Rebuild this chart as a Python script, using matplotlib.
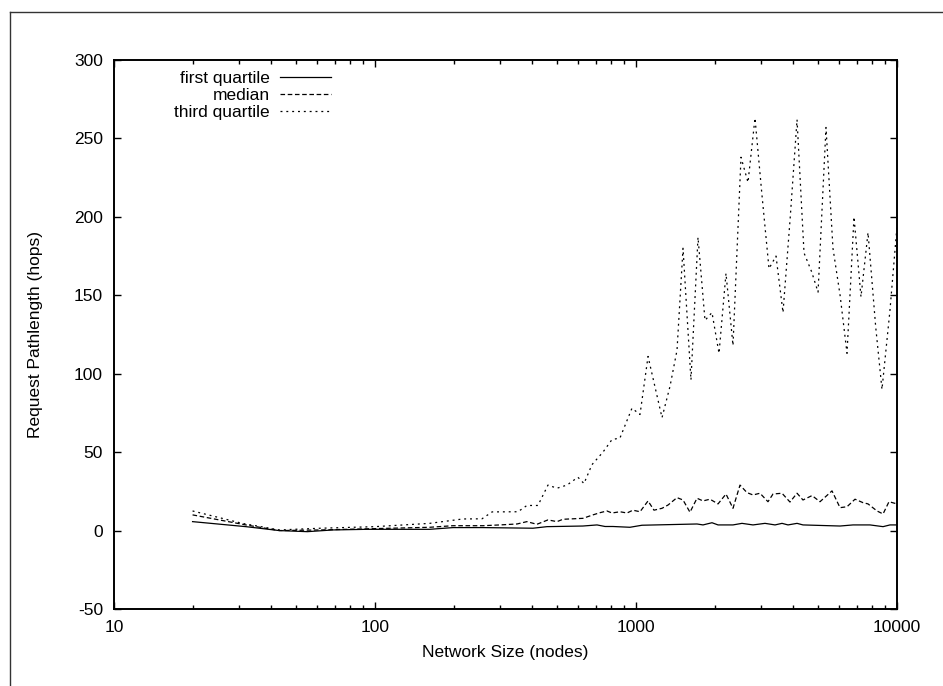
import matplotlib
matplotlib.use("Agg")
import matplotlib.pyplot as plt
from matplotlib.lines import Line2D
from matplotlib.ticker import FixedLocator, LogLocator, NullFormatter

plt.rcParams['font.family'] = ['Liberation Sans', 'DejaVu Sans']
plt.rcParams['lines.scale_dashes'] = False
plt.rcParams['axes.unicode_minus'] = False

# request pathlength quartiles vs network size
q1_size = [20, 32, 43, 55, 69, 93, 162, 199, 259, 403, 456, 626, 709, 761, 816,
           948, 1054, 1713, 1806, 1955, 2062, 2353, 2547, 2807, 3121, 3409,
           3626, 3823, 4140, 4363, 6049, 6783, 7881, 8842, 9402, 10000]
q1_hops = [5.7, 2.5, 0.0, -0.7, 0.4, 0.8, 0.8, 1.9, 1.9, 1.5, 2.5, 2.9, 3.6, 2.6, 2.6,
           2.1, 3.4, 4.2, 3.6, 5.0, 3.6, 3.6, 4.6, 3.6, 4.6, 3.6,
           4.6, 3.6, 4.6, 3.6, 2.9, 3.6, 3.6, 2.5, 3.6, 3.6]

med_size = [20, 32, 43, 62, 162, 199, 259, 301, 350, 382, 417, 460, 498, 525,
            626, 684, 728, 774, 809, 868, 924, 973, 1036, 1112, 1172, 1258,
            1327, 1436, 1514, 1610, 1713, 1806, 1921, 2062, 2212, 2353, 2503,
            2662, 2807, 2986, 3204, 3349, 3626, 3890, 4140, 4363, 4725, 5070,
            5636, 6049, 6434, 6904, 7407, 7744, 8383, 8842, 9318, 10000]
med_hops = [10.0, 3.6, 0.0, 0.4, 2.1, 3.1, 3.1, 3.6, 4.2, 5.7, 4.0, 6.8, 5.7, 7.2,
            7.8, 10.0, 11.4, 12.5, 11.2, 12.0, 11.2, 13.0, 12.0, 18.9, 13.0, 14.2,
            16.3, 21.0, 19.5, 11.7, 20.6, 18.9, 20.0, 17.0, 23.3, 14.2, 29.0,
            24.2, 22.7, 23.8, 18.4, 23.3, 23.8, 18.2, 23.8, 19.5, 22.3, 18.4,
            25.3, 14.6, 15.2, 20.0, 17.8, 17.0, 12.5, 10.6, 18.4, 17.0]

q3_size = [20, 31, 43, 62, 100, 162, 217, 257, 281, 353, 382, 421, 460, 498,
           544, 599, 632, 678, 747, 809, 868, 965, 1036, 1112, 1258, 1350,
           1436, 1514, 1624, 1728, 1838, 1955, 2080, 2212, 2353, 2525, 2686,
           2857, 3034, 3233, 3439, 3658, 3900, 4140, 4403, 4709, 4983, 5345,
           5684, 6053, 6434, 6843, 7278, 7744, 8285, 8759, 9393, 10000]
q3_hops = [12.5, 4.6, 0.4, 1.5, 2.5, 4.6, 7.4, 7.5, 11.9, 12.0, 16.0, 16.0, 29.0, 27.0,
           29.0, 34.0, 30.0, 42.0, 50.0, 58.0, 59.0, 78.0, 74.0, 111.0, 72.0, 92.0,
           115.0, 180.0, 96.0, 187.0, 134.0, 139.0, 113.0, 164.0, 118.0, 238.0, 222.0,
           263.0, 215.0, 167.0, 175.0, 139.0, 200.0, 262.0, 177.0, 165.0, 152.0, 257.0,
           180.0, 150.0, 113.0, 200.0, 149.0, 190.0, 130.0, 90.0, 140.0, 194.0]

W, H = 943, 686
fs = 12.5
fig = plt.figure(figsize=(W / 100, H / 100), dpi=100)
ax = fig.add_axes([114 / W, 1 - 609 / H, (897 - 114) / W, (609 - 60) / H])

lw = 0.9
ax.plot(q1_size, q1_hops, color='black', lw=lw, label='first quartile')
ax.plot(med_size, med_hops, color='black', lw=lw, dashes=(3.3, 1.9), label='median')
ax.plot(q3_size, q3_hops, color='black', lw=lw, dashes=(1.4, 2.8), label='third quartile')

ax.set_xscale('log')
ax.set_xlim(10, 10000)
ax.set_ylim(-50, 300)
ax.yaxis.set_major_locator(FixedLocator(range(-50, 301, 50)))
ax.xaxis.set_major_locator(FixedLocator([10, 100, 1000, 10000]))
ax.xaxis.set_minor_locator(LogLocator(base=10, subs=range(2, 10)))
ax.xaxis.set_minor_formatter(NullFormatter())
ax.set_xticklabels(['10', '100', '1000', '10000'])

ax.tick_params(which='both', direction='in', top=True, right=True,
               labelsize=fs, pad=8, width=1.0)
ax.tick_params(which='major', length=5)
ax.tick_params(which='minor', length=3)
for spine in ax.spines.values():
    spine.set_linewidth(1.4)

ax.set_xlabel('Network Size (nodes)', fontsize=fs, labelpad=7)
ax.set_ylabel('Request Pathlength (hops)', fontsize=fs, labelpad=22)

# key sits near the top left, labels right-aligned before the line samples
ax.legend(loc='upper right', bbox_to_anchor=((342 - 114) / 783, 1.0), frameon=False,
          markerfirst=False, fontsize=fs, handlelength=2.9,
          handletextpad=0.63, labelspacing=0.1, borderaxespad=0.0, borderpad=0.65)

# page frame
fig.add_artist(Line2D([10 / W, 10 / W], [0, 1 - 12 / H], color='#333333', lw=1.0))
fig.add_artist(Line2D([10 / W, 1], [1 - 12 / H, 1 - 12 / H], color='#333333', lw=1.0))

fig.savefig('out.png', dpi=100)
